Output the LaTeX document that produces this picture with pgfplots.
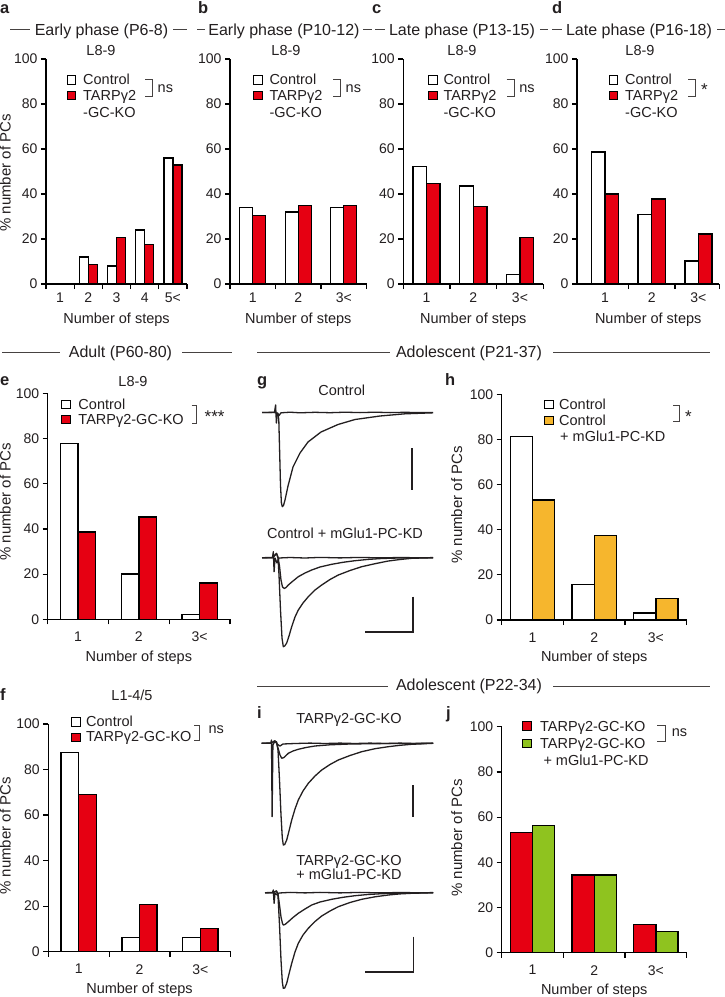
\documentclass[border=0pt]{standalone}
\usepackage{fontspec}
\setmainfont{Liberation Sans}
\usepackage{pgfplots}
\pgfplotsset{compat=1.18}
\definecolor{txt}{RGB}{35,31,32}
\definecolor{kored}{RGB}{230,0,18}
\definecolor{kdorange}{RGB}{246,182,45}
\definecolor{kdgreen}{RGB}{143,195,31}
\definecolor{hdr}{RGB}{70,66,65}
\newcommand\ft{\fontsize{14.5bp}{17bp}\selectfont}
\newcommand\fy{\fontsize{15bp}{17bp}\selectfont}
\newcommand\fk{\fontsize{14bp}{16bp}\selectfont}
\newcommand\fh{\fontsize{16bp}{19bp}\selectfont}
\newcommand\fs{\fontsize{17bp}{19bp}\selectfont}
\newcommand\fl{\fontsize{16.5bp}{19bp}\selectfont\bfseries}
\pgfplotsset{
  barpanel/.style={
    scale only axis, anchor=south west,
    xmin=0.5, ymin=0, ymax=100,
    axis x line=bottom, axis y line=left,
    axis line style={line width=1.2bp, -, black},
    ytick={0,20,...,100},
    tick align=outside,
    major tick length=5bp, minor tick length=5bp,
    every tick/.style={line width=1.2bp, black},
    major x tick style={draw=none},
    tick label style={font=\fk, text=txt},
    /pgf/number format/assume math mode=true,
    xlabel={Number of steps},
    xlabel style={font=\ft, text=txt, at={(axis description cs:0.5,0)}, anchor=center, yshift=-36bp},
    clip=false,
  },
  lowrow/.style={xticklabel style={yshift=-4bp}, xlabel style={yshift=-2bp}},
  ctrlbar/.style={ybar, fill=white, draw=black, line width=1.4bp},
  kobar/.style={ybar, fill=kored, draw=black, line width=1.4bp},
  kdbar/.style={ybar, fill=kdorange, draw=black, line width=1.4bp},
  grbar/.style={ybar, fill=kdgreen, draw=black, line width=1.4bp},
  trace/.style={draw=txt, line width=1.3bp, line join=round, mark=none},
  hline/.style={draw=hdr, line width=1bp, mark=none},
  sbar/.style={draw=txt, line width=1.6bp, mark=none},
}
\begin{document}
\begin{tikzpicture}
\path[use as bounding box, fill=white] (0,0) rectangle (725bp,-997bp);
% ---------------- panel a
\begin{axis}[barpanel, at={(46bp,-284bp)}, width=141bp, height=225bp, xmax=5.5,
  xtick={1,2,3,4,5}, xticklabels={1,2,3,4,5<}, minor xtick={0.5,1.5,2.5,3.5,4.5,5.5}]
\addplot[ctrlbar, bar width=0.32, bar shift=-0.16] coordinates {(1,0)(2,12)(3,8)(4,24)(5,56)};
\addplot[kobar, bar width=0.32, bar shift=0.16] coordinates {(1,0)(2,8.8)(3,20.6)(4,17.6)(5,52.9)};
\end{axis}
% ---------------- panel b
\begin{axis}[barpanel, at={(230bp,-284bp)}, width=136.5bp, height=225bp, xmax=3.5,
  xtick={1,2,3}, xticklabels={1,2,3<}, minor xtick={0.5,1.5,2.5,3.5}]
\addplot[ctrlbar, bar width=0.285, bar shift=-0.1425] coordinates {(1,34)(2,32)(3,34)};
\addplot[kobar, bar width=0.285, bar shift=0.1425] coordinates {(1,30.4)(2,34.8)(3,34.8)};
\end{axis}
% ---------------- panel c
\begin{axis}[barpanel, at={(403.3bp,-284bp)}, width=140bp, height=225bp, xmax=3.5,
  xtick={1,2,3}, xticklabels={1,2,3<}, minor xtick={0.5,1.5,2.5,3.5}]
\addplot[ctrlbar, bar width=0.29, bar shift=-0.145] coordinates {(1,52.2)(2,43.5)(3,4.3)};
\addplot[kobar, bar width=0.29, bar shift=0.145] coordinates {(1,44.8)(2,34.5)(3,20.7)};
\end{axis}
% ---------------- panel d
\begin{axis}[barpanel, at={(577bp,-284bp)}, width=142.4bp, height=225bp, xmin=0.4, xmax=3.45,
  xtick={1,2,3}, xticklabels={1,2,3<}, minor xtick={1.5,2.5,3.45}]
\addplot[ctrlbar, bar width=0.29, bar shift=-0.145] coordinates {(1,58.6)(2,31.0)(3,10.3)};
\addplot[kobar, bar width=0.29, bar shift=0.145] coordinates {(1,40)(2,37.8)(3,22.2)};
\end{axis}
% ---------------- panel e
\begin{axis}[barpanel, lowrow, at={(47.7bp,-619.3bp)}, width=182.3bp, height=226bp, xmax=3.5,
  xtick={1,2,3}, xticklabels={1,2,3<}, minor xtick={0.5,1.5,2.5,3.5}]
\addplot[ctrlbar, bar width=0.29, bar shift=-0.145] coordinates {(1,77.8)(2,20)(3,2.2)};
\addplot[kobar, bar width=0.29, bar shift=0.145] coordinates {(1,38.7)(2,45.2)(3,16.1)};
\end{axis}
% ---------------- panel h
\begin{axis}[barpanel, lowrow, at={(501.7bp,-620bp)}, width=185bp, height=225.7bp, xmax=3.5,
  xtick={1,2,3}, xticklabels={1,2,3<}, minor xtick={0.5,1.5,2.5,3.5}]
\addplot[ctrlbar, bar width=0.36, bar shift=-0.18] coordinates {(1,81.3)(2,15.6)(3,3.1)};
\addplot[kdbar, bar width=0.36, bar shift=0.18] coordinates {(1,53.1)(2,37.5)(3,9.4)};
\end{axis}
% ---------------- panel f
\begin{axis}[barpanel, lowrow, at={(48.3bp,-951.7bp)}, width=182.4bp, height=227.7bp, xmax=3.5,
  xtick={1,2,3}, xticklabels={1,2,3<}, minor xtick={0.5,1.5,2.5,3.5}]
\addplot[ctrlbar, bar width=0.29, bar shift=-0.145] coordinates {(1,87.5)(2,6.25)(3,6.25)};
\addplot[kobar, bar width=0.29, bar shift=0.145] coordinates {(1,69.0)(2,20.7)(3,10.3)};
\end{axis}
% ---------------- panel j
\begin{axis}[barpanel, lowrow, at={(501.7bp,-952.7bp)}, width=185bp, height=226bp, xmax=3.5,
  xtick={1,2,3}, xticklabels={1,2,3<}, minor xtick={0.5,1.5,2.5,3.5}]
\addplot[kobar, bar width=0.36, bar shift=-0.18] coordinates {(1,53.1)(2,34.4)(3,12.5)};
\addplot[grbar, bar width=0.36, bar shift=0.18] coordinates {(1,56.3)(2,34.4)(3,9.4)};
\end{axis}
% ---------------- traces, header lines, scale bars (pixel space)
\begin{axis}[at={(0,0)}, anchor=north west, scale only axis, width=725bp, height=997bp,
  xmin=0, xmax=725, ymin=0, ymax=997, y dir=reverse, hide axis, clip=false]
% header lines
\addplot[hline] coordinates {(10,29.5)(30,29.5)};
\addplot[hline] coordinates {(173,29.5)(187,29.5)};
\addplot[hline] coordinates {(197,29.5)(205,29.5)};
\addplot[hline] coordinates {(363,29.5)(372,29.5)};
\addplot[hline] coordinates {(375,29.5)(385,29.5)};
\addplot[hline] coordinates {(540,29.5)(548,29.5)};
\addplot[hline] coordinates {(552,29.5)(562,29.5)};
\addplot[hline] coordinates {(717,29.5)(725,29.5)};
\addplot[hline] coordinates {(2,352.5)(60,352.5)};
\addplot[hline] coordinates {(182,352.5)(232,352.5)};
\addplot[hline] coordinates {(257,352.5)(390,352.5)};
\addplot[hline] coordinates {(553,352.5)(710,352.5)};
\addplot[hline] coordinates {(257,686)(388,686)};
\addplot[hline] coordinates {(553,686)(710,686)};
% g top: failure + EPSC
\addplot[trace] coordinates {(262,412.5)(274.5,412.3)(275.6,405)(276.4,423)(277.4,413)(279,415.5)(281,412.8)(290,412.2)(300,412.8)(315,412.3)(330,412.7)(345,412.2)(360,412.6)(375,412.2)(390,412.6)(405,412.3)(420,412.6)(433,412.4)};
\addplot[trace] coordinates {(262,412.5)(274.5,412.5)(278,413.5)(278.8,420)(279.6,450)(280.5,485)(281.4,503)(282.3,506.7)(283.5,505.5)(285,500)(288,486)(293,467)(300,453)(308,442)(321,432)(338,424.5)(355,419.5)(380,416)(405,413.8)(433,412.8)};
% g bottom: failure, small, large
\addplot[trace] coordinates {(262,557.7)(272.5,557.5)(273.3,551.7)(274.1,571.7)(275,558)(277,563)(279,558)(290,557.5)(305,558)(320,557.4)(340,557.9)(360,557.4)(380,557.9)(400,557.5)(420,557.8)(433,557.6)};
\addplot[trace] coordinates {(262,557.7)(272.5,557.7)(276.5,553.5)(278,557)(279.5,566)(281,580)(282.5,587)(284.3,588.5)(286,587.5)(288.3,585)(293,581)(298.3,576.7)(305,573)(311.7,570)(320,567)(331.7,564.3)(343,562.3)(355,560.7)(368,559.4)(381.7,558.5)(401.7,557.9)(433,557.7)};
\addplot[trace] coordinates {(262,557.7)(272.5,557.7)(276.5,553.5)(278,558)(279,575)(280.5,610)(282,638)(283.3,646.7)(284.7,646)(286.7,643)(289,636)(291.7,626.7)(295,617)(298.3,610)(303,603)(308.3,596.7)(315,590)(321.7,585)(330,579.5)(338.3,575)(350,570.5)(361.7,566.7)(375,563.7)(388.3,561)(400,559.5)(411.7,558.3)(433,557.7)};
% i top
\addplot[trace] coordinates {(261.7,743.3)(270.8,743)(271.5,740)(272.1,816.7)(272.9,745)(275,741)(277,744)(280,746)(283,744)(295,743.5)(310,743.1)(325,743.5)(340,743.1)(355,743.5)(370,743.1)(385,743.5)(400,743.1)(415,743.5)(433,743.2)};
\addplot[trace] coordinates {(261.7,743.3)(271,743.3)(274.5,741)(276.5,742)(278,748)(280,755)(281.7,758.3)(284,757.5)(288.3,753.3)(293,751)(298.3,749.3)(306,747.5)(315,746)(330,744.8)(350,744)(380,743.6)(433,743.3)};
\addplot[trace] coordinates {(261.7,743.3)(271,743.3)(274.5,741)(276.5,742)(278,750)(279.5,780)(281,815)(282.3,838)(283.3,845)(284.7,844.5)(286.7,840)(289,831)(291.7,820)(295,809)(298.3,800)(303,791)(308.3,783.3)(315,776)(321.7,770)(330,764.5)(338.3,760)(350,755.5)(361.7,751.7)(375,748.7)(388.3,746.7)(400,745.3)(411.7,744.3)(433.3,743.3)};
% i bottom
\addplot[trace] coordinates {(265,892.7)(272.5,892.5)(273.3,890)(274.1,903.3)(275,893)(277,895)(279,893)(290,892.4)(305,892.9)(320,892.4)(340,892.9)(360,892.4)(380,892.9)(400,892.5)(420,892.8)(433,892.6)};
\addplot[trace] coordinates {(265,892.7)(272.5,892.7)(276.5,891)(278,894)(279.5,905)(281,917)(282.5,923.5)(283.3,925)(285,924.5)(288.3,921.7)(293,917.5)(298.3,913.3)(305,909)(311.7,905)(320,902)(331.7,899.3)(343,897.3)(355,895.7)(368,894.5)(381.7,893.7)(400,893.1)(433,892.7)};
\addplot[trace] coordinates {(265,892.7)(272.5,892.7)(276.5,891)(278,896)(279.5,925)(281,960)(282.3,982)(283.3,988.3)(284.7,988)(286.7,983.3)(289,974)(291.7,963.3)(295,952)(298.3,943.3)(303,935)(308.3,928.3)(315,921.5)(321.7,916)(330,911)(338.3,906.7)(350,902.5)(361.7,899.3)(375,896.8)(388.3,895)(400,893.9)(411.7,893.3)(433.3,892.7)};
% scale bars
\addplot[sbar] coordinates {(411.7,448.3)(411.7,490)};
\addplot[sbar] coordinates {(412.7,596.7)(412.7,631.7)(365,631.7)};
\addplot[sbar] coordinates {(412.7,785)(412.7,816.7)};
\addplot[sbar] coordinates {(413.3,936.7)(413.3,972)(365,972)};
\end{axis}
% ---------------- text and legends (pixel space)
\begin{scope}[x=1bp, y=-1bp, every node/.style={inner sep=0pt, text=txt}]
% panel letters
\node[anchor=base west, font=\fl] at (0,13) {a};
\node[anchor=base west, font=\fl] at (198,13) {b};
\node[anchor=base west, font=\fl] at (372,13) {c};
\node[anchor=base west, font=\fl] at (552,13) {d};
\node[anchor=base west, font=\fl] at (0,385) {e};
\node[anchor=base west, font=\fl] at (257,385) {g};
\node[anchor=base west, font=\fl] at (445,385) {h};
\node[anchor=base west, font=\fl] at (0,700) {f};
\node[anchor=base west, font=\fl] at (257,718) {i};
\node[anchor=base west, font=\fl] at (446,718) {j};
% headers
\node[anchor=base, font=\fh] at (101.5,35) {Early phase (P6-8)};
\node[anchor=base, font=\fh] at (284,35) {Early phase (P10-12)};
\node[anchor=base, font=\fh] at (462,35) {Late phase (P13-15)};
\node[anchor=base, font=\fh] at (639,35) {Late phase (P16-18)};
\node[anchor=base, font=\fh] at (120.5,357.3) {Adult (P60-80)};
\node[anchor=base, font=\fh] at (469,357.3) {Adolescent (P21-37)};
\node[anchor=base, font=\fh] at (469,690) {Adolescent (P22-34)};
% subtitles
\node[anchor=base, font=\ft] at (101,55) {L8-9};
\node[anchor=base, font=\ft] at (286,55) {L8-9};
\node[anchor=base, font=\ft] at (462,55) {L8-9};
\node[anchor=base, font=\ft] at (640,55) {L8-9};
\node[anchor=base, font=\ft] at (133,386) {L8-9};
\node[anchor=base, font=\ft] at (132,700) {L1-4/5};
% y labels
\node[anchor=base, rotate=90, font=\fy] at (10.5,173) {\% number of PCs};
\node[anchor=base, rotate=90, font=\fy] at (10.5,502) {\% number of PCs};
\node[anchor=base, rotate=90, font=\fy] at (10.5,836) {\% number of PCs};
\node[anchor=base, rotate=90, font=\fy] at (462,505) {\% number of PCs};
\node[anchor=base, rotate=90, font=\fy] at (462,838) {\% number of PCs};
% trace titles
\node[anchor=base, font=\ft] at (341.7,395) {Control};
\node[anchor=base, font=\ft] at (345,538.3) {Control + mGlu1-PC-KD};
\node[anchor=base, font=\ft] at (349,723.3) {TARPγ2-GC-KO};
\node[anchor=base, font=\ft] at (349,865) {TARPγ2-GC-KO};
\node[anchor=base, font=\ft] at (349,879.5) {+ mGlu1-PC-KD};
% legends row 1
\foreach \sx/\tx/\bx in {71.3/83/145, 258/269.3/333, 432.8/443.3/506.7, 613.3/625/688}{
  \draw[fill=white, draw=black, line width=1bp] (\sx-4.2,80-4.2) rectangle (\sx+4.2,80+4.2);
  \draw[fill=kored, draw=black, line width=1bp] (\sx-4.2,95.3-4.2) rectangle (\sx+4.2,95.3+4.2);
  \node[anchor=base west, font=\ft] at (\tx,84.5) {Control};
  \node[anchor=base west, font=\ft] at (\tx,100.3) {TARPγ2};
  \node[anchor=base west, font=\ft] at (\tx,117.5) {-GC-KO};
  \draw[draw=hdr, line width=1bp] (\bx,79.3) -- (\bx+7.5,79.3) -- (\bx+7.5,96.7) -- (\bx,96.7);
}
\node[anchor=base west, font=\ft] at (157.5,92) {ns};
\node[anchor=base west, font=\ft] at (345.5,92) {ns};
\node[anchor=base west, font=\ft] at (519.2,92) {ns};
\node[anchor=base west, font=\fs] at (701,95) {*};
% legend e
\draw[fill=white, draw=black, line width=1bp] (61.6,400.3) rectangle (70,408.7);
\draw[fill=kored, draw=black, line width=1bp] (61.6,415.5) rectangle (70,423.9);
\node[anchor=base west, font=\ft] at (78.3,409) {Control};
\node[anchor=base west, font=\ft] at (78.3,424.5) {TARPγ2-GC-KO};
\draw[draw=hdr, line width=1bp] (191.5,405) -- (196.7,405) -- (196.7,423.3) -- (191.5,423.3);
\node[anchor=base west, font=\fs] at (204.5,422) {***};
% legend h
\draw[fill=white, draw=black, line width=1bp] (544.6,400) rectangle (553,408.4);
\draw[fill=kdorange, draw=black, line width=1bp] (544.6,416) rectangle (553,424.4);
\node[anchor=base west, font=\ft] at (559,409.5) {Control};
\node[anchor=base west, font=\ft] at (559,425) {Control};
\node[anchor=base west, font=\ft] at (560,441) {+ mGlu1-PC-KD};
\draw[draw=hdr, line width=1bp] (673.3,405) -- (679.3,405) -- (679.3,421.7) -- (673.3,421.7);
\node[anchor=base west, font=\fs] at (685,422) {*};
% legend f
\draw[fill=white, draw=black, line width=1bp] (71.6,717.6) rectangle (80,726);
\draw[fill=kored, draw=black, line width=1bp] (71.6,733.3) rectangle (80,741.7);
\node[anchor=base west, font=\ft] at (86,726.5) {Control};
\node[anchor=base west, font=\ft] at (86,741.5) {TARPγ2-GC-KO};
\draw[draw=hdr, line width=1bp] (194,725) -- (199.3,725) -- (199.3,740) -- (194,740);
\node[anchor=base west, font=\ft] at (208.3,733.3) {ns};
% legend j
\draw[fill=kored, draw=black, line width=1bp] (522.6,721.6) rectangle (531,730);
\draw[fill=kdgreen, draw=black, line width=1bp] (522.6,739.1) rectangle (531,747.5);
\node[anchor=base west, font=\ft] at (540,731) {TARPγ2-GC-KO};
\node[anchor=base west, font=\ft] at (540,748.5) {TARPγ2-GC-KO};
\node[anchor=base west, font=\ft] at (543.3,765) {+ mGlu1-PC-KD};
\draw[draw=hdr, line width=1bp] (657,725) -- (665,725) -- (665,741) -- (657,741);
\node[anchor=base west, font=\ft] at (671.7,736.7) {ns};
\end{scope}
\end{tikzpicture}
\end{document}
